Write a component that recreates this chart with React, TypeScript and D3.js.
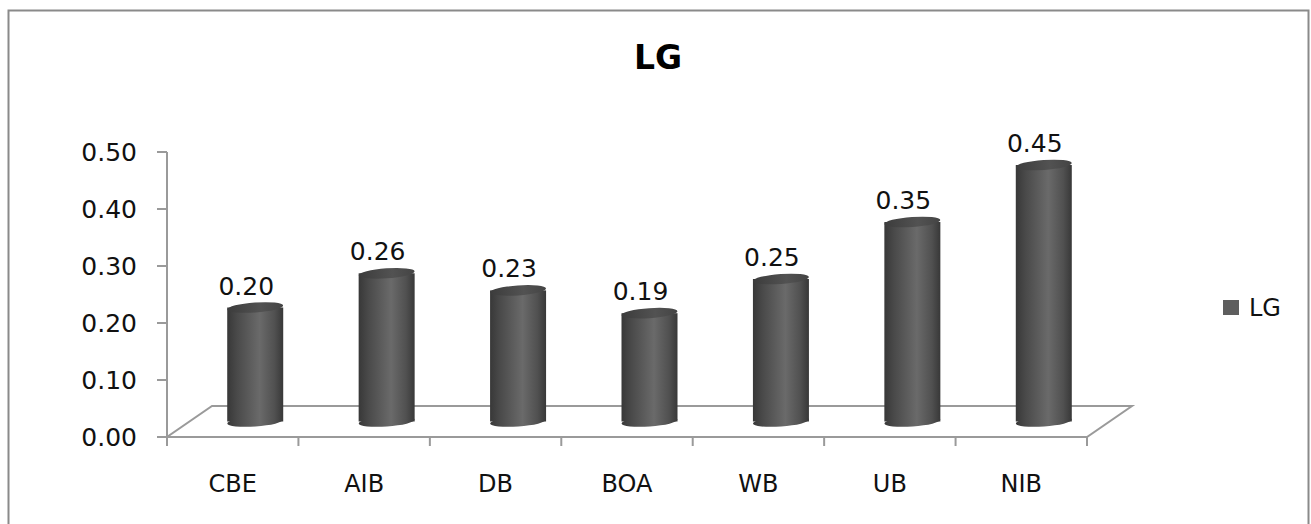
import React from "react";
import * as d3 from "d3";

const categories = ["CBE", "AIB", "DB", "BOA", "WB", "UB", "NIB"];
const lgValues = [0.2, 0.26, 0.23, 0.19, 0.25, 0.35, 0.45];
const yTicks = [0, 0.1, 0.2, 0.3, 0.4, 0.5];
const seriesName = "LG";

const W = 1311;
const H = 524;

// plot geometry (front plane of the 3-D floor)
const plotLeft = 167;
const plotRight = 1087;
const plotBottom = 437;
const plotTop = 152;
const depthX = 45;
const depthY = -31;

export default function App() {
  const y = d3.scaleLinear().domain([0, 0.5]).range([plotBottom, plotTop]);
  const x = d3.scaleBand<string>().domain(categories).range([plotLeft, plotRight]).padding(0);
  const fmt = d3.format(".2f");

  const barW = 56;
  const rx = barW / 2;
  const ry = 5;
  const tilt = -4;
  const midDx = depthX / 2;
  const midDy = depthY / 2;

  const floor = [
    [plotLeft, plotBottom],
    [plotRight, plotBottom],
    [plotRight + depthX, plotBottom + depthY],
    [plotLeft + depthX, plotBottom + depthY],
  ];
  const floorPath = d3.line()(floor as [number, number][]) + "Z";

  return (
    <svg
      width={W}
      height={H}
      style={{ position: "absolute", left: 0, top: 0, background: "#fff" }}
      fontFamily="'DejaVu Sans', Verdana, sans-serif"
    >
      <defs>
        <linearGradient id="cyl" x1="0" x2="1" y1="0" y2="0">
          <stop offset="0" stopColor="#383838" />
          <stop offset="0.18" stopColor="#4a4a4a" />
          <stop offset="0.58" stopColor="#6a6a6a" />
          <stop offset="0.85" stopColor="#505050" />
          <stop offset="1" stopColor="#383838" />
        </linearGradient>
        <linearGradient id="cylTop" x1="0" x2="1" y1="0" y2="0">
          <stop offset="0" stopColor="#3c3c3c" />
          <stop offset="0.6" stopColor="#525252" />
          <stop offset="1" stopColor="#444444" />
        </linearGradient>
      </defs>

      {/* chart frame */}
      <rect x={8.5} y={10.5} width={1300} height={530} fill="none" stroke="#8a8a8a" strokeWidth={2} />

      {/* title */}
      <text x={658} y={69} textAnchor="middle" fontSize={33} fontWeight="bold" fill="#000">
        {seriesName}
      </text>

      {/* floor */}
      <path d={floorPath} fill="none" stroke="#9a9a9a" strokeWidth={2} />

      {/* value axis */}
      <line x1={plotLeft} x2={plotLeft} y1={plotTop} y2={plotBottom} stroke="#9a9a9a" strokeWidth={2} />
      {yTicks.map((t) => (
        <g key={t}>
          <line x1={plotLeft - 10} x2={plotLeft} y1={y(t)} y2={y(t)} stroke="#9a9a9a" strokeWidth={2} />
          <text x={137} y={y(t) + 9} textAnchor="end" fontSize={25} fill="#111">
            {fmt(t)}
          </text>
        </g>
      ))}

      {/* category axis ticks and labels */}
      {categories.map((c) => (
        <line
          key={"t" + c}
          x1={x(c)!}
          x2={x(c)!}
          y1={plotBottom}
          y2={plotBottom + 9}
          stroke="#9a9a9a"
          strokeWidth={2}
        />
      ))}
      <line x1={plotRight} x2={plotRight} y1={plotBottom} y2={plotBottom + 9} stroke="#9a9a9a" strokeWidth={2} />
      {categories.map((c) => (
        <text
          key={"l" + c}
          x={x(c)! + x.bandwidth() / 2}
          y={492}
          textAnchor="middle"
          fontSize={24}
          fill="#111"
        >
          {c}
        </text>
      ))}

      {/* cylinders */}
      {categories.map((c, i) => {
        const v = lgValues[i];
        const cx = x(c)! + x.bandwidth() / 2 + midDx;
        const yBase = y(0) + midDy;
        const yTop = y(v) + midDy;
        return (
          <g key={"b" + c}>
            <ellipse
              cx={cx}
              cy={yBase}
              rx={rx}
              ry={ry}
              transform={`rotate(${tilt} ${cx} ${yBase})`}
              fill="url(#cyl)"
            />
            <rect x={cx - rx} y={yTop} width={barW} height={yBase - yTop} fill="url(#cyl)" />
            <ellipse
              cx={cx}
              cy={yTop}
              rx={rx}
              ry={ry}
              transform={`rotate(${tilt} ${cx} ${yTop})`}
              fill="url(#cylTop)"
            />
            <text x={cx - 9} y={yTop - 13} textAnchor="middle" fontSize={25} fill="#111">
              {fmt(v)}
            </text>
          </g>
        );
      })}

      {/* legend */}
      <rect x={1223} y={300} width={16} height={15} fill="#5e5e5e" />
      <text x={1249} y={316} fontSize={24} fill="#111">
        {seriesName}
      </text>
    </svg>
  );
}
